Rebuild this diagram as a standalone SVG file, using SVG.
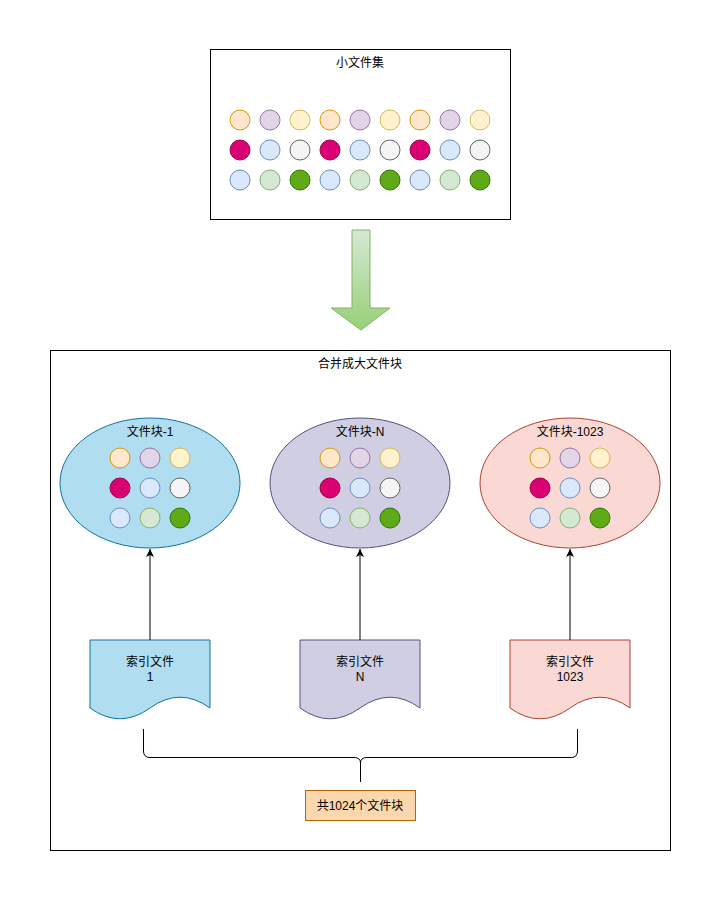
<svg xmlns="http://www.w3.org/2000/svg" width="721" height="901" viewBox="0 0 721 901">
<defs>
<style>
text{font-family:"Liberation Sans","Noto Sans CJK SC",sans-serif;font-size:12px;fill:#000;text-anchor:middle}
.box{fill:#fff;stroke:#000;stroke-width:1}
.c{stroke-width:1}
.pe{fill:#ffe6cc;stroke:#d79b00}
.pu{fill:#e1d5e7;stroke:#9673a6}
.ye{fill:#fff2cc;stroke:#d6b656}
.ma{fill:#d80073;stroke:#a50040}
.bl{fill:#dae8fc;stroke:#6c8ebf}
.gr{fill:#f5f5f5;stroke:#666666}
.gn{fill:#d5e8d4;stroke:#82b366}
.dg{fill:#60a917;stroke:#2d7600}
.edge{fill:none;stroke:#000;stroke-width:1}
</style>
<linearGradient id="arrowGrad" x1="0" y1="0" x2="0" y2="1">
<stop offset="0" stop-color="#d5e8d4"/>
<stop offset="1" stop-color="#97d077"/>
</linearGradient>
<marker id="ah" viewBox="0 0 10 10" refX="10" refY="5" markerWidth="8" markerHeight="8" markerUnits="userSpaceOnUse" orient="auto">
<path d="M0,0 L10,5 L0,10 L2.5,5 Z" fill="#000"/>
</marker>
<g id="set9">
<circle cx="-30" cy="-30" r="10" class="pe"/>
<circle cx="0" cy="-30" r="10" class="pu"/>
<circle cx="30" cy="-30" r="10" class="ye"/>
<circle cx="-30" cy="0" r="10" class="ma"/>
<circle cx="0" cy="0" r="10" class="bl"/>
<circle cx="30" cy="0" r="10" class="gr"/>
<circle cx="-30" cy="30" r="10" class="bl"/>
<circle cx="0" cy="30" r="10" class="gn"/>
<circle cx="30" cy="30" r="10" class="dg"/>
</g>
</defs>
<rect width="721" height="901" fill="#fff"/>

<g id="small-files">
<rect x="210.5" y="49.5" width="300" height="170" class="box"/>
<text x="360" y="67">小文件集</text>
<use href="#set9" x="270" y="150"/>
<use href="#set9" x="360" y="150"/>
<use href="#set9" x="450" y="150"/>
</g>

<g id="merge-arrow">
<path d="M352,230 H370 V308 H390 L361,330 L331,308 H352 Z" fill="url(#arrowGrad)" stroke="#82b366" stroke-width="1"/>
</g>

<g id="container">
<rect x="50.5" y="350.5" width="620" height="500" class="box"/>
<text x="360" y="368">合并成大文件块</text>
</g>

<g id="block-1">
<ellipse cx="150" cy="483" rx="90" ry="65" fill="#b1ddf0" stroke="#10739e"/>
<text x="150" y="436">文件块-1</text>
<use href="#set9" x="150" y="488"/>
</g>
<g id="block-N">
<ellipse cx="360" cy="483" rx="90" ry="65" fill="#d0cee2" stroke="#56517e"/>
<text x="360" y="436">文件块-N</text>
<use href="#set9" x="360" y="488"/>
</g>
<g id="block-1023">
<ellipse cx="570" cy="483" rx="90" ry="65" fill="#fad9d5" stroke="#ae4132"/>
<text x="570" y="436">文件块-1023</text>
<use href="#set9" x="570" y="488"/>
</g>

<g id="index-1">
<path d="M90,640 H210 V708 Q180,686.4 150,708 Q120,729.6 90,708 Z" fill="#b1ddf0" stroke="#10739e"/>
<text x="150" y="666">索引文件</text>
<text x="150" y="681">1</text>
</g>
<g id="index-N">
<path d="M300,640 H420 V708 Q390,686.4 360,708 Q330,729.6 300,708 Z" fill="#d0cee2" stroke="#56517e"/>
<text x="360" y="666">索引文件</text>
<text x="360" y="681">N</text>
</g>
<g id="index-1023">
<path d="M510,640 H630 V708 Q600,686.4 570,708 Q540,729.6 510,708 Z" fill="#fad9d5" stroke="#ae4132"/>
<text x="570" y="666">索引文件</text>
<text x="570" y="681">1023</text>
</g>

<g id="total">
<rect x="305.5" y="790.5" width="110" height="30" fill="#fad7ac" stroke="#b46504"/>
<text x="360" y="810">共1024个文件块</text>
</g>

<g id="connectors">
<line x1="150" y1="640" x2="150" y2="549" class="edge" marker-end="url(#ah)"/>
<line x1="360" y1="640" x2="360" y2="549" class="edge" marker-end="url(#ah)"/>
<line x1="570" y1="640" x2="570" y2="549" class="edge" marker-end="url(#ah)"/>
<path d="M143.5,729 V751 Q143.5,757.5 150,757.5 H354 Q360.5,757.5 360.5,763 Q360.5,757.5 367,757.5 H571 Q577.5,757.5 577.5,751 V729 M360.5,763 V782" class="edge"/>
</g>
</svg>
